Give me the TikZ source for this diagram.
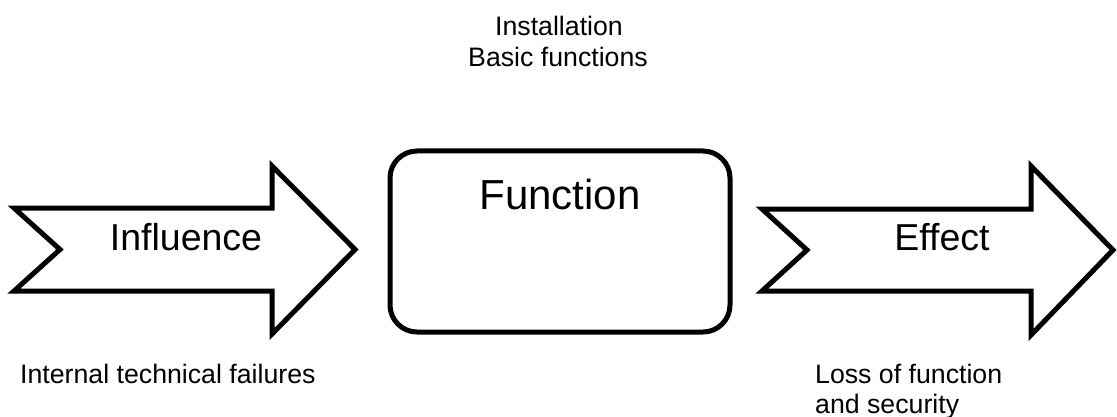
\documentclass[tikz,border=0pt]{standalone}
\usepackage{fontspec}
\setmainfont{Liberation Sans}
\begin{document}
\begin{tikzpicture}[x=1pt,y=-1pt,
  outline/.style={draw=black,line width=5pt,line join=miter,fill=white},
  boxlabel/.style={font=\fontsize{42}{48}\selectfont,inner sep=0pt},
  arrowlabel/.style={font=\fontsize{37.5}{43}\selectfont,inner sep=0pt},
  note/.style={font=\fontsize{26.7}{31}\selectfont,inner sep=0pt,align=left}]
\useasboundingbox (0,0) rectangle (1117,417);
\fill[white] (0,0) rectangle (1117,417);

% notched block arrow entering the function box
\draw[outline] (14,208) -- (272,208) -- (272,166) -- (355,249.5)
  -- (272,334) -- (272,291) -- (14,291) -- (60,249.5) -- cycle;
% the function box itself
\draw[outline,rounded corners=27pt] (390,151) rectangle (730,332);
% notched block arrow leaving the function box
\draw[outline] (762,209) -- (1031,209) -- (1031,166) -- (1113,250)
  -- (1031,335) -- (1031,291) -- (762,291) -- (807,250) -- cycle;

\node[arrowlabel,anchor=base] (influence) at (186,250) {Influence};
\node[boxlabel,anchor=base] (function) at (560,210) {Function};
\node[arrowlabel,anchor=base] (effect) at (942,250) {Effect};

\node[note,anchor=base,align=center] (install) at (559,36) {Installation};
\node[note,anchor=base,align=center] (basic) at (558,67) {Basic functions};
\node[note,anchor=base west] (internal) at (20,383) {Internal technical failures};
\node[note,anchor=base west] (loss) at (815,383) {Loss of function};
\node[note,anchor=base west] (security) at (815,413) {and security};
\end{tikzpicture}
\end{document}
